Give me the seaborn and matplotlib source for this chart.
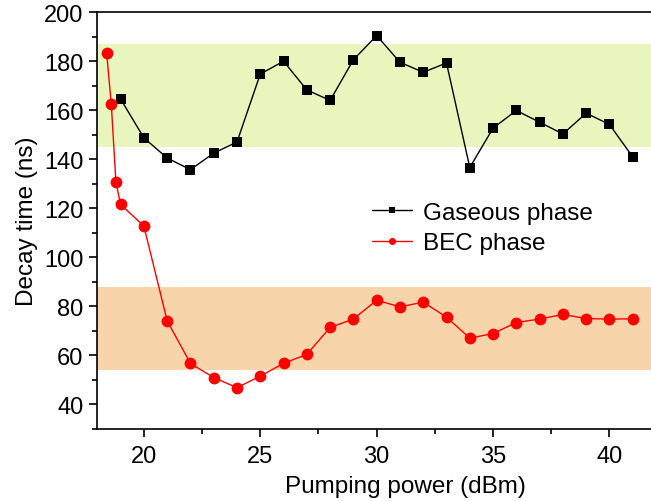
import matplotlib
matplotlib.use("Agg")
import matplotlib.pyplot as plt
from matplotlib.ticker import MultipleLocator
import seaborn as sns
import pandas as pd

# Decay time vs pumping power for the two phases
gas_power = [19, 20, 21, 22, 23, 24, 25, 26, 27, 28, 29, 30,
             31, 32, 33, 34, 35, 36, 37, 38, 39, 40, 41]
gas_decay = [164.6, 148.7, 140.5, 135.7, 142.5, 147.0, 174.8, 180.0, 168.3,
             164.0, 180.6, 190.5, 179.6, 175.5, 179.3, 136.6, 152.7, 159.9,
             155.1, 150.3, 158.8, 154.2, 140.9]

bec_power = [18.4, 18.6, 18.8, 19, 20, 21, 22, 23, 24, 25, 26, 27, 28, 29,
             30, 31, 32, 33, 34, 35, 36, 37, 38, 39, 40, 41]
bec_decay = [183.3, 162.5, 130.5, 121.5, 112.7, 74.0, 56.6, 50.8, 46.7, 51.4,
             56.6, 60.3, 71.3, 74.7, 82.4, 79.7, 81.6, 75.5, 66.9, 68.8, 73.3,
             74.7, 76.6, 74.9, 74.7, 74.8]

# Shaded ranges of decay time for each phase
gas_band = (145, 187)
bec_band = (54, 88)

labels = ["Gaseous phase", "BEC phase"]

sns.set_style("ticks")
plt.rcParams["font.family"] = ["Liberation Sans", "DejaVu Sans"]
plt.rcParams["text.color"] = "black"
plt.rcParams["axes.labelcolor"] = "black"

fig = plt.figure(figsize=(6.51, 5.02), dpi=100)
ax = fig.add_axes([0.1495, 0.1444, 0.8582, 0.8291])

ax.axhspan(*gas_band, color="#e8f5bd", lw=0, zorder=0)
ax.axhspan(*bec_band, color="#f8d4aa", lw=0, zorder=0)

gas_df = pd.DataFrame({"power": gas_power, "decay": gas_decay})
bec_df = pd.DataFrame({"power": bec_power, "decay": bec_decay})

sns.lineplot(data=gas_df, x="power", y="decay", ax=ax, color="black",
             marker="s", markersize=7.5, markeredgewidth=0, lw=1.0,
             label=labels[0], zorder=3)
sns.lineplot(data=bec_df, x="power", y="decay", ax=ax, color="#ff0000",
             marker="o", markersize=8.5, markeredgewidth=0, lw=1.0,
             label=labels[1], zorder=3)

ax.set_xlim(18, 42)
ax.set_ylim(30, 200)
ax.xaxis.set_major_locator(MultipleLocator(5))
ax.xaxis.set_minor_locator(MultipleLocator(2.5))
ax.yaxis.set_major_locator(MultipleLocator(20))
ax.yaxis.set_minor_locator(MultipleLocator(10))

ax.tick_params(which="major", direction="out", length=6, width=1.2,
               labelsize=17, colors="black", labelcolor="black")
ax.tick_params(axis="x", which="major", pad=6)
ax.tick_params(axis="y", which="major", pad=4)
ax.tick_params(which="minor", direction="out", length=3.5, width=1.2,
               colors="black")

for side in ["left", "bottom", "top"]:
    ax.spines[side].set_linewidth(1.2)
    ax.spines[side].set_color("black")
ax.spines["right"].set_visible(False)

ax.set_xlabel("Pumping power (dBm)", fontsize=17.5)
ax.xaxis.set_label_coords(0.551, -0.112, transform=ax.transAxes)
ax.xaxis.label.set_verticalalignment("top")
ax.set_ylabel("Decay time (ns)", fontsize=17.5, labelpad=4)

leg = ax.legend(loc="upper left", bbox_to_anchor=(0.492, 0.545), frameon=False,
                fontsize=17.5, markerscale=0.6, handlelength=1.65,
                handletextpad=0.45, labelspacing=0.36, borderpad=0,
                borderaxespad=0)
for t in leg.get_texts():
    t.set_color("black")

fig.savefig("out.png", dpi=100)
